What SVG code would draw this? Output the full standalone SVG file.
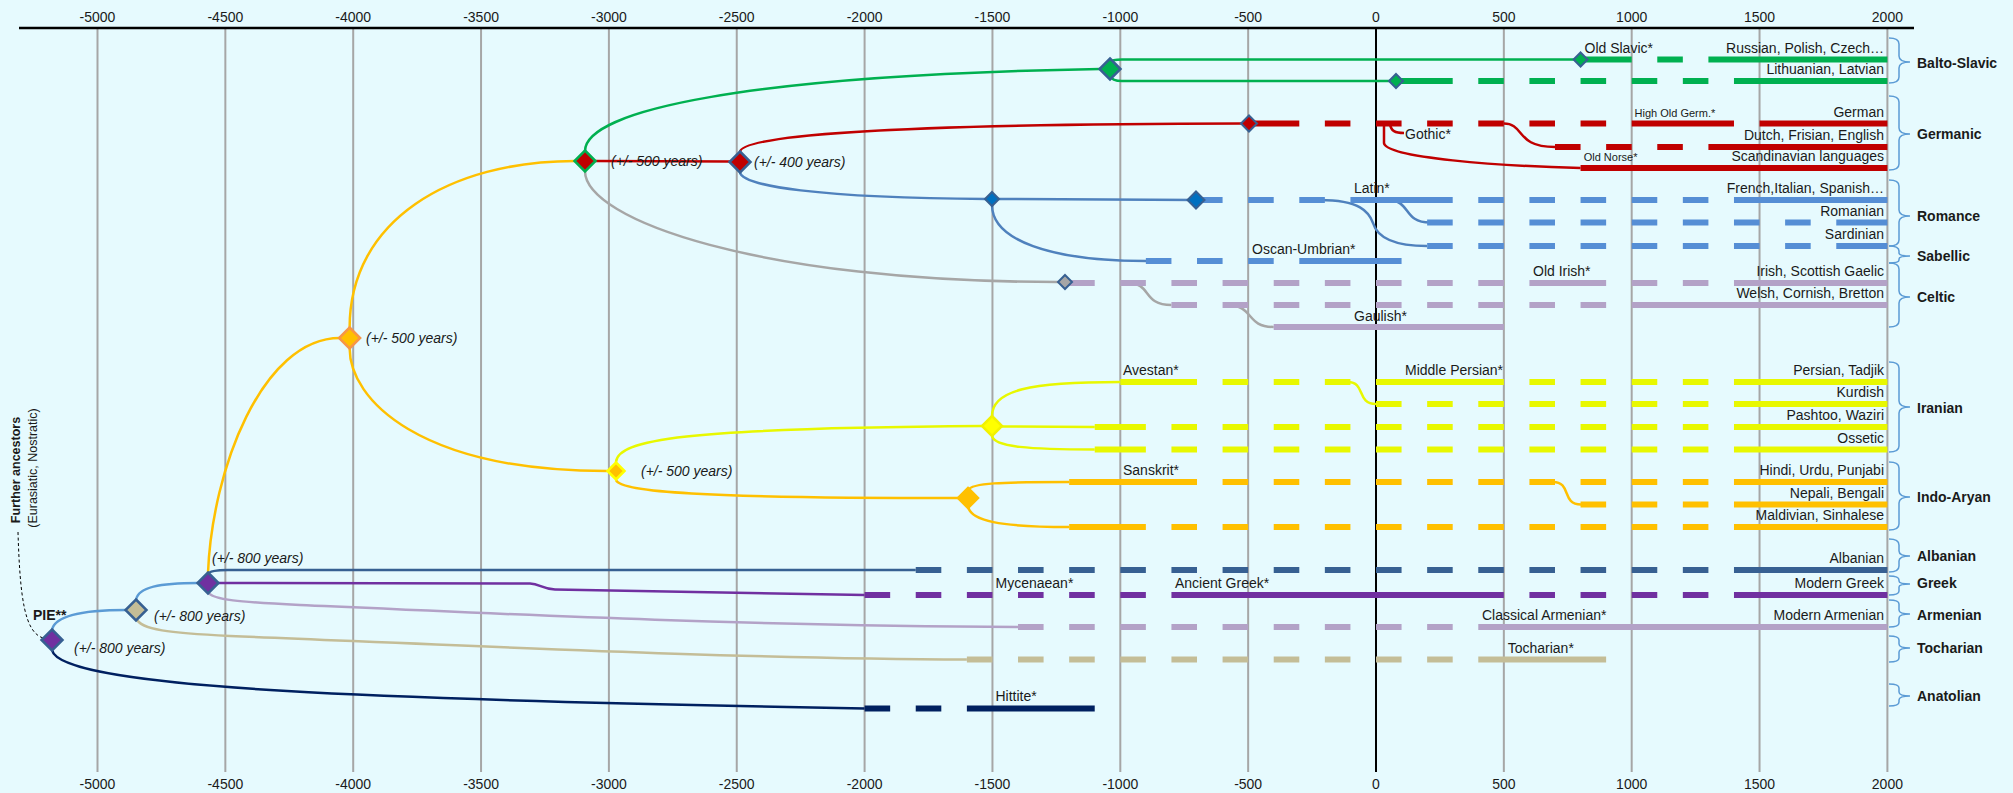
<svg xmlns="http://www.w3.org/2000/svg" width="2013" height="793" viewBox="0 0 2013 793">
<style>
.grid{stroke:#a6a6a6;stroke-width:2}
.tick{font-family:"Liberation Sans",Arial,sans-serif;font-size:14px;fill:#1a1a1a;text-anchor:middle}
.lbl{font-family:"Liberation Sans",Arial,sans-serif;font-size:14px;fill:#1a1a1a}
.end{text-anchor:end}
.sm{font-size:11px}
.it{font-style:italic}
.b{font-weight:bold}
.thin{fill:none;stroke-width:2.5}
.thick{fill:none;stroke-width:6}
.d{stroke-dasharray:25.57 25.57}
.brace{fill:none;stroke:#5b9bd5;stroke-width:1.5}
.big{stroke-width:2.5}
.small{stroke-width:2}
.g{stroke:#00b050}.r{stroke:#c00000}.bl{stroke:#558ed5}.blt{stroke:#4f81bd}.li{stroke:#b3a2c7}.gy{stroke:#a6a6a6}
.y{stroke:#e8f800}.o{stroke:#ffc000}.al{stroke:#376092}.pu{stroke:#7030a0}.be{stroke:#c4bd97}.nv{stroke:#002060}.lb{stroke:#5b9bd5}
</style>
<rect width="2013" height="793" fill="#e6fafe"/>
<g id="axis">
<g class="grid">
<line x1="97.5" y1="28" x2="97.5" y2="772"/><line x1="225.35" y1="28" x2="225.35" y2="772"/><line x1="353.2" y1="28" x2="353.2" y2="772"/><line x1="481.05" y1="28" x2="481.05" y2="772"/><line x1="608.9" y1="28" x2="608.9" y2="772"/><line x1="736.75" y1="28" x2="736.75" y2="772"/><line x1="864.6" y1="28" x2="864.6" y2="772"/><line x1="992.45" y1="28" x2="992.45" y2="772"/><line x1="1120.3" y1="28" x2="1120.3" y2="772"/><line x1="1248.15" y1="28" x2="1248.15" y2="772"/><line x1="1503.85" y1="28" x2="1503.85" y2="772"/><line x1="1631.7" y1="28" x2="1631.7" y2="772"/><line x1="1759.55" y1="28" x2="1759.55" y2="772"/><line x1="1887.4" y1="28" x2="1887.4" y2="772"/>
</g>
<line x1="1376" y1="28" x2="1376" y2="772" stroke="#000" stroke-width="2"/>
<line x1="19" y1="28" x2="1914" y2="28" stroke="#000" stroke-width="2.5"/>
<g class="tick">
<text x="97.5" y="22">-5000</text><text x="225.35" y="22">-4500</text><text x="353.2" y="22">-4000</text><text x="481.05" y="22">-3500</text><text x="608.9" y="22">-3000</text><text x="736.75" y="22">-2500</text><text x="864.6" y="22">-2000</text><text x="992.45" y="22">-1500</text><text x="1120.3" y="22">-1000</text><text x="1248.15" y="22">-500</text><text x="1376" y="22">0</text><text x="1503.85" y="22">500</text><text x="1631.7" y="22">1000</text><text x="1759.55" y="22">1500</text><text x="1887.4" y="22">2000</text>
<text x="97.5" y="789">-5000</text><text x="225.35" y="789">-4500</text><text x="353.2" y="789">-4000</text><text x="481.05" y="789">-3500</text><text x="608.9" y="789">-3000</text><text x="736.75" y="789">-2500</text><text x="864.6" y="789">-2000</text><text x="992.45" y="789">-1500</text><text x="1120.3" y="789">-1000</text><text x="1248.15" y="789">-500</text><text x="1376" y="789">0</text><text x="1503.85" y="789">500</text><text x="1631.7" y="789">1000</text><text x="1759.55" y="789">1500</text><text x="1887.4" y="789">2000</text>
</g>
</g>
<g id="connectors">
<path d="M18 532 C20 600 25 632 43 638" fill="none" stroke="#000" stroke-width="1" stroke-dasharray="3 2.5"/>
<path class="thin lb" d="M52 630 C55 614 90 610 126 610"/>
<path class="thin lb" d="M136 600 C138 587 160 583 198 583"/>
<path class="thin nv" d="M52 650 C60 690 400 700 864.6 708.5"/>
<path class="thin be" d="M136 618 C140 630 170 633 230 636 C500 647 750 659 966.88 659.5"/>
<path class="thin o" d="M208 573 C212 470 262 338 340 338"/>
<path class="thin al" d="M208 574 Q210 570 228 570 L915.74 570"/>
<path class="thin pu" d="M218 583 L530 583.5 C540 584 542 589 555 589.5 L864.6 595"/>
<path class="thin li" d="M208 592 C212 600 240 602 300 605 C500 614 750 626 1018.02 627"/>
<path class="thin o" d="M349.6 328 C349.6 220 450 161 575 161"/>
<path class="thin o" d="M349.6 348 C349.6 400 420 471 607 471"/>
<path class="thin y" d="M616 462 C618 440 680 428 983 426"/>
<path class="thin o" d="M616 480 C620 492 700 498 958 498"/>
<path class="thin g" d="M585 151 C585 110 750 75 1100 69"/>
<path class="thin r" d="M594 161 L730 161.5"/>
<path class="thin gy" d="M585 171 C585 220 760 282 1058 282"/>
<path class="thin r" d="M740 152 C740 135 900 124 1243 123.5"/>
<path class="thin blt" d="M740 172 C740 186 820 198 986 199"/>
<path class="thin g" d="M1110 62 Q1112 59.5 1122 59.5 L1580 59.5"/>
<path class="thin g" d="M1110 76 Q1112 81 1122 81 L1396 81"/>
<path class="thin blt" d="M998 199 L1196 200"/>
<path class="thin blt" d="M992 205 C992 240 1050 261 1146 261"/>
<path class="thin r" d="M1390 124 C1391 131 1395 133 1404 133"/>
<path class="thin r" d="M1384 123.5 L1384 143 C1386 158 1500 166 1580.56 168"/>
<path class="thin r" d="M1503.85 123.5 C1525 123.5 1515 147 1555 147"/>
<path class="thin blt" d="M1387 200 C1412 200 1402 222.5 1430 222.5"/>
<path class="thin blt" d="M1320 200 C1360 200 1369 212 1373 223 C1378 240 1400 246 1427 246"/>
<path class="thin gy" d="M1128 283 C1152 283 1142 305 1171.44 305"/>
<path class="thin gy" d="M1226 305 C1255 305 1245 327 1273.72 327"/>
<path class="thin y" d="M992 416 C992 390 1030 382 1120.3 382"/>
<path class="thin y" d="M1348 382 C1366 382 1356 404 1376 404"/>
<path class="thin y" d="M1000 426.5 L1094.73 427"/>
<path class="thin y" d="M992 436 C994 447 1030 449.5 1094.73 449.5"/>
<path class="thin o" d="M968 490 C972 483 1000 482 1069.16 482"/>
<path class="thin o" d="M1553 482 C1572 482 1561 504.5 1581 504.5"/>
<path class="thin o" d="M968 506 C970 521 1000 527 1069.16 527"/>
<g class="thick g">
<path d="M1580.56 59.5H1631.7M1708.41 59.5H1887.4"/><path class="d" d="M1657.27 59.5H1682.84"/>
<path d="M1396 81H1452.71M1733.98 81H1887.4"/><path class="d" d="M1478.28 81H1708.41"/>
</g>
<g class="thick r">
<path d="M1249 123.5H1299.29M1631.7 123.5H1733.98M1759.55 123.5H1887.4"/><path class="d" d="M1324.86 123.5H1606.13"/>
<path d="M1708.41 147H1887.4"/><path class="d" d="M1554.99 147H1682.84"/>
<path d="M1580.56 168H1887.4"/>
</g>
<g class="thick bl">
<path d="M1350.43 200H1452.71M1733.98 200H1887.4"/><path class="d" d="M1197.01 200H1324.86M1478.28 200H1708.41"/>
<path d="M1836.26 222.5H1887.4"/><path class="d" d="M1427.14 222.5H1810.69"/>
<path d="M1836.26 246H1887.4"/><path class="d" d="M1427.14 246H1810.69"/>
<path d="M1299.29 261H1401.57"/><path class="d" d="M1145.87 261H1273.72"/>
</g>
<g class="thick li">
<path d="M1065 283H1094.73M1529.42 283H1606.13M1733.98 283H1887.4"/><path class="d" d="M1120.3 283H1503.85M1631.7 283H1708.41"/>
<path d="M1631.7 305H1887.4"/><path class="d" d="M1171.44 305H1606.13"/>
<path d="M1273.72 327H1503.85"/>
</g>
<g class="thick y">
<path d="M1120.3 382H1197.01M1376 382H1503.85M1733.98 382H1887.4"/><path class="d" d="M1222.58 382H1350.43M1529.42 382H1708.41"/>
<path d="M1733.98 404H1887.4"/><path class="d" d="M1376 404H1708.41"/>
<path d="M1094.73 427H1145.87M1733.98 427H1887.4"/><path class="d" d="M1171.44 427H1708.41"/>
<path d="M1094.73 449.5H1145.87M1733.98 449.5H1887.4"/><path class="d" d="M1171.44 449.5H1708.41"/>
</g>
<g class="thick o">
<path d="M1069.16 482H1197.01M1733.98 482H1887.4"/><path class="d" d="M1222.58 482H1708.41"/>
<path d="M1733.98 504.5H1887.4"/><path class="d" d="M1580.56 504.5H1708.41"/>
<path d="M1069.16 527H1145.87M1733.98 527H1887.4"/><path class="d" d="M1171.44 527H1708.41"/>
</g>
<path class="thick al" d="M1733.98 570H1887.4"/><path class="thick al d" d="M915.74 570H1708.41"/>
<path class="thick pu" d="M1171.44 595H1503.85M1733.98 595H1887.4"/><path class="thick pu d" d="M864.6 595H1145.87M1529.42 595H1708.41"/>
<path class="thick li" d="M1478.28 627H1887.4"/><path class="thick li d" d="M1018.02 627H1452.71"/>
<path class="thick be" d="M1478.28 659.5H1606.13"/><path class="thick be d" d="M966.88 659.5H1452.71"/>
<path class="thick nv" d="M966.88 708.5H1094.73"/><path class="thick nv d" d="M864.6 708.5H941.31"/>
</g>
<g id="ancestors">
<text class="lbl b" text-anchor="middle" transform="translate(20 470) rotate(-90)" style="font-size:12.5px">Further ancestors</text>
<text class="lbl" text-anchor="middle" transform="translate(37 468) rotate(-90)" style="font-size:12.5px">(Eurasiatic, Nostratic)</text>
</g>
<g id="node-pie"><path class="big" d="M52 629.5L62.5 640L52 650.5L41.5 640Z" fill="#7030a0" stroke="#376092"/><text class="lbl b" x="33" y="620">PIE**</text><text class="lbl it" x="74" y="653">(+/- 800 years)</text></g>
<g id="node-2"><path class="big" d="M136 599.5L146.5 610L136 620.5L125.5 610Z" fill="#c4bd97" stroke="#376092"/><text class="lbl it" x="154" y="621">(+/- 800 years)</text></g>
<g id="node-3"><path class="big" d="M208 572.5L218.5 583L208 593.5L197.5 583Z" fill="#7030a0" stroke="#376092"/><text class="lbl it" x="212" y="563">(+/- 800 years)</text></g>
<g id="node-4"><path class="big" d="M349.6 327.5L360.1 338L349.6 348.5L339.1 338Z" fill="#ffc000" stroke="#f79646"/><text class="lbl it" x="366" y="343">(+/- 500 years)</text></g>
<g id="node-5"><path class="big" d="M585 150.5L595.5 161L585 171.5L574.5 161Z" fill="#c00000" stroke="#00b050"/><text class="lbl it" x="611" y="166">(+/- 500 years)</text></g>
<g id="node-6"><path class="big" d="M740 151.5L750.5 162L740 172.5L729.5 162Z" fill="#c00000" stroke="#376092"/><text class="lbl it" x="754" y="167">(+/- 400 years)</text></g>
<g id="node-7"><path class="big" d="M1110 58.5L1120.5 69L1110 79.5L1099.5 69Z" fill="#00b050" stroke="#376092"/></g>
<g id="node-old-slavic"><path class="small" d="M1580.56 52.5L1587.56 59.5L1580.56 66.5L1573.56 59.5Z" fill="#00b050" stroke="#376092"/><text class="lbl" x="1584.5" y="53">Old Slavic*</text></g>
<g id="node-baltic"><path class="small" d="M1396 74L1403 81L1396 88L1389 81Z" fill="#00b050" stroke="#376092"/></g>
<g id="node-germanic"><path class="small" d="M1249 115.5L1257 123.5L1249 131.5L1241 123.5Z" fill="#c00000" stroke="#376092"/></g>
<g id="node-italic"><path class="small" d="M992 192L999 199L992 206L985 199Z" fill="#0070c0" stroke="#376092"/></g>
<g id="node-latin"><path class="small" d="M1196 191.5L1204.5 200L1196 208.5L1187.5 200Z" fill="#0070c0" stroke="#376092"/><text class="lbl" x="1354" y="193">Latin*</text></g>
<g id="node-celtic"><path class="small" d="M1065 275L1072 282L1065 289L1058 282Z" fill="#a6a6a6" stroke="#376092"/></g>
<g id="node-indo-iranian"><path class="big" d="M616 462.5L624.5 471L616 479.5L607.5 471Z" fill="#ffc000" stroke="#ffff00"/><text class="lbl it" x="641" y="476">(+/- 500 years)</text></g>
<g id="node-iranian"><path class="big" d="M992 416L1002 426L992 436L982 426Z" fill="#ffff00" stroke="#f2f200"/></g>
<g id="node-indo-aryan"><path class="big" d="M968 488L978 498L968 508L958 498Z" fill="#ffc000" stroke="#ffc000"/></g>
<g id="labels-historic" class="lbl">
<text class="sm" x="1634.6" y="117">High Old Germ.*</text>
<text class="sm" x="1583.7" y="161">Old Norse*</text>
<text x="1405" y="139">Gothic*</text>
<text x="1252" y="254">Oscan-Umbrian*</text>
<text x="1533" y="276">Old Irish*</text>
<text x="1354" y="321">Gaulish*</text>
<text x="1123" y="375">Avestan*</text>
<text x="1405" y="375">Middle Persian*</text>
<text x="1123" y="475">Sanskrit*</text>
<text x="995.5" y="588">Mycenaean*</text>
<text x="1175" y="588">Ancient Greek*</text>
<text x="1482" y="620">Classical Armenian*</text>
<text x="1507.7" y="653">Tocharian*</text>
<text x="995.5" y="701">Hittite*</text>
</g>
<g id="labels-modern" class="lbl end">
<text x="1884" y="53">Russian, Polish, Czech…</text>
<text x="1884" y="74">Lithuanian, Latvian</text>
<text x="1884" y="117">German</text>
<text x="1884" y="140">Dutch, Frisian, English</text>
<text x="1884" y="161">Scandinavian languages</text>
<text x="1884" y="193">French,Italian, Spanish…</text>
<text x="1884" y="216">Romanian</text>
<text x="1884" y="239">Sardinian</text>
<text x="1884" y="276">Irish, Scottish Gaelic</text>
<text x="1884" y="298">Welsh, Cornish, Bretton</text>
<text x="1884" y="375">Persian, Tadjik</text>
<text x="1884" y="397">Kurdish</text>
<text x="1884" y="420">Pashtoo, Waziri</text>
<text x="1884" y="443">Ossetic</text>
<text x="1884" y="475">Hindi, Urdu, Punjabi</text>
<text x="1884" y="498">Nepali, Bengali</text>
<text x="1884" y="520">Maldivian, Sinhalese</text>
<text x="1884" y="563">Albanian</text>
<text x="1884" y="588">Modern Greek</text>
<text x="1884" y="620">Modern Armenian</text>
</g>
<g id="branch-balto-slavic"><path class="brace" d="M1889 38C1896 38 1899 40 1899 44L1899 56C1899 60 1902 62 1910 62C1902 62 1899 64 1899 68L1899 77C1899 81 1896 83 1889 83"/><text class="lbl b" x="1917" y="68">Balto-Slavic</text></g>
<g id="branch-germanic"><path class="brace" d="M1889 96C1896 96 1899 98 1899 102L1899 128C1899 132 1902 134 1910 134C1902 134 1899 136 1899 140L1899 164C1899 168 1896 170 1889 170"/><text class="lbl b" x="1917" y="139">Germanic</text></g>
<g id="branch-romance"><path class="brace" d="M1889 180C1896 180 1899 182 1899 186L1899 210C1899 214 1902 216 1910 216C1902 216 1899 218 1899 222L1899 240C1899 244 1896 246 1889 246"/><text class="lbl b" x="1917" y="221">Romance</text></g>
<g id="branch-sabellic"><path class="brace" d="M1889 246C1896 246 1899 248 1899 251L1899 253C1899 255 1902 256 1910 256C1902 256 1899 257 1899 259L1899 260C1899 262 1896 263 1889 263"/><text class="lbl b" x="1917" y="261">Sabellic</text></g>
<g id="branch-celtic"><path class="brace" d="M1889 263C1896 263 1899 265 1899 269L1899 291C1899 295 1902 297 1910 297C1902 297 1899 299 1899 303L1899 321C1899 325 1896 327 1889 327"/><text class="lbl b" x="1917" y="302">Celtic</text></g>
<g id="branch-iranian"><path class="brace" d="M1889 362C1896 362 1899 364 1899 368L1899 401C1899 405 1902 407 1910 407C1902 407 1899 409 1899 413L1899 446C1899 450 1896 452 1889 452"/><text class="lbl b" x="1917" y="413">Iranian</text></g>
<g id="branch-indo-aryan"><path class="brace" d="M1889 462C1896 462 1899 464 1899 468L1899 491C1899 495 1902 497 1910 497C1902 497 1899 499 1899 503L1899 524C1899 528 1896 530 1889 530"/><text class="lbl b" x="1917" y="502">Indo-Aryan</text></g>
<g id="branch-albanian"><path class="brace" d="M1889 539C1896 539 1899 541 1899 545L1899 551C1899 554 1902 556 1910 556C1902 556 1899 558 1899 561L1899 566C1899 570 1896 572 1889 572"/><text class="lbl b" x="1917" y="561">Albanian</text></g>
<g id="branch-greek"><path class="brace" d="M1889 576C1896 576 1899 577 1899 580L1899 581C1899 583 1902 584 1910 584C1902 584 1899 585 1899 587L1899 591C1899 594 1896 595 1889 595"/><text class="lbl b" x="1917" y="588">Greek</text></g>
<g id="branch-armenian"><path class="brace" d="M1889 600C1896 600 1899 601 1899 604L1899 610C1899 613 1902 614 1910 614C1902 614 1899 615 1899 618L1899 623C1899 626 1896 627 1889 627"/><text class="lbl b" x="1917" y="620">Armenian</text></g>
<g id="branch-tocharian"><path class="brace" d="M1889 636C1896 636 1899 637 1899 640L1899 644C1899 647 1902 648 1910 648C1902 648 1899 649 1899 652L1899 658C1899 661 1896 662 1889 662"/><text class="lbl b" x="1917" y="653">Tocharian</text></g>
<g id="branch-anatolian"><path class="brace" d="M1889 684C1896 684 1899 685 1899 688L1899 692C1899 695 1902 696 1910 696C1902 696 1899 697 1899 700L1899 702C1899 705 1896 706 1889 706"/><text class="lbl b" x="1917" y="701">Anatolian</text></g>
</svg>
